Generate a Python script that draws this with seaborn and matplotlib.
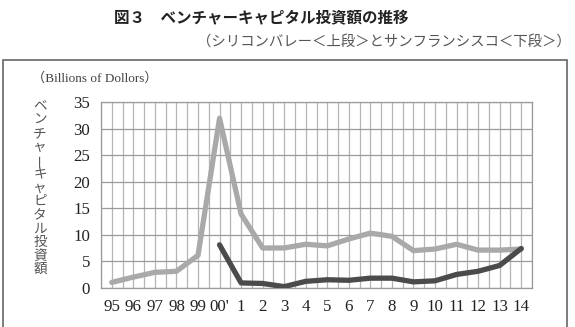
import numpy as np
import pandas as pd
import matplotlib
matplotlib.use('Agg')
import matplotlib.pyplot as plt
import seaborn as sns
from matplotlib.patches import Rectangle


# x categories (fiscal years) and the two series, in billions of dollars
years = ['95', '96', '97', '98', '99', "00'", '1', '2', '3', '4', '5', '6', '7',
         '8', '9', '10', '11', '12', '13', '14']
silicon_valley = [1.0, 2.0, 2.9, 3.1, 6.1, 32.0, 13.9, 7.5, 7.5, 8.2, 7.9, 9.2,
                  10.3, 9.7, 7.0, 7.3, 8.2, 7.1, 7.1, 7.3]
san_francisco = [np.nan, np.nan, np.nan, np.nan, np.nan, 8.1, 0.9, 0.8, 0.2, 1.2,
                 1.5, 1.4, 1.8, 1.8, 1.1, 1.3, 2.5, 3.1, 4.2, 7.4]

y_ticks = [0, 5, 10, 15, 20, 25, 30, 35]
title = '図３　ベンチャーキャピタル投資額の推移'
subtitle = '（シリコンバレー＜上段＞とサンフランシスコ＜下段＞）'
unit_label = '（Billions of Dollors）'
y_label = 'ベンチャーキャピタル投資額'

SERIF = ['Liberation Serif', 'Noto Sans CJK JP', 'DejaVu Serif']
CJK = ['Noto Sans CJK JP', 'DejaVu Sans']


def main():
    sns.set_style('white')
    plt.rcParams['font.family'] = CJK

    df = pd.DataFrame({
        'pos': np.arange(len(years)),
        'sv': silicon_valley,
        'sf': san_francisco,
    })

    fig = plt.figure(figsize=(5.75, 3.27), dpi=100)
    ax = fig.add_axes([0.1757, 0.1202, 0.7495, 0.5668])

    sns.lineplot(data=df, x='pos', y='sv', ax=ax, color='#a9a9a9', linewidth=3.8,
                 solid_capstyle='round', solid_joinstyle='round', zorder=3)
    sns.lineplot(data=df.dropna(), x='pos', y='sf', ax=ax, color='#4b4b4b', linewidth=3.8,
                 solid_capstyle='round', solid_joinstyle='round', zorder=4)

    ax.set_xlim(-0.5, len(years) - 0.5)
    ax.set_ylim(0, 35)
    ax.set_xticks(np.arange(len(years)))
    ax.set_xticklabels(years)
    ax.set_xticks(np.arange(-0.5, len(years), 0.5), minor=True)
    ax.set_yticks(y_ticks)
    ax.set_yticklabels([str(v) for v in y_ticks])
    ax.tick_params(which='both', length=0)
    ax.tick_params(axis='x', pad=8)
    ax.tick_params(axis='y', pad=8)
    for lab in ax.get_xticklabels() + ax.get_yticklabels():
        lab.set_family(SERIF)
        lab.set_fontsize(12.2)
        lab.set_color('#222222')

    ax.grid(which='both', axis='x', color='#b5b5b5', linewidth=0.9)
    ax.grid(which='major', axis='y', color='#9a9a9a', linewidth=0.9)
    ax.set_axisbelow(True)
    for sp in ax.spines.values():
        sp.set_color('#9a9a9a')
        sp.set_linewidth(0.9)
    ax.set_xlabel('')
    ax.set_ylabel('')

    # outer frame around the chart body
    fig.patches.append(Rectangle((3 / 575, -0.05), 564 / 575, 1 - 60 / 327 + 0.05,
                                 transform=fig.transFigure, fill=False,
                                 edgecolor='#666666', linewidth=1.2))

    fig.text(0.455, 0.945, title, ha='center', va='center', fontsize=11.2,
             fontweight='bold', color='#222222')
    fig.text(0.993, 0.873, subtitle, ha='right', va='center', fontsize=10.4,
             color='#555555')
    fig.text(32 / 575, 1 - 78 / 327, unit_label, ha='left', va='center',
             fontsize=9.5, family=SERIF, color='#444444')

    # stacked vertical label
    y0 = 1 - 106 / 327
    step = 13.6 / 327
    for i, ch in enumerate(y_label):
        fig.text(40 / 575, y0 - i * step, ch, ha='center', va='center',
                 fontsize=9.8, color='#555555',
                 rotation=90 if ch == 'ー' else 0)

    fig.savefig('out.png', dpi=100)
    plt.close(fig)


if __name__ == '__main__':
    main()
